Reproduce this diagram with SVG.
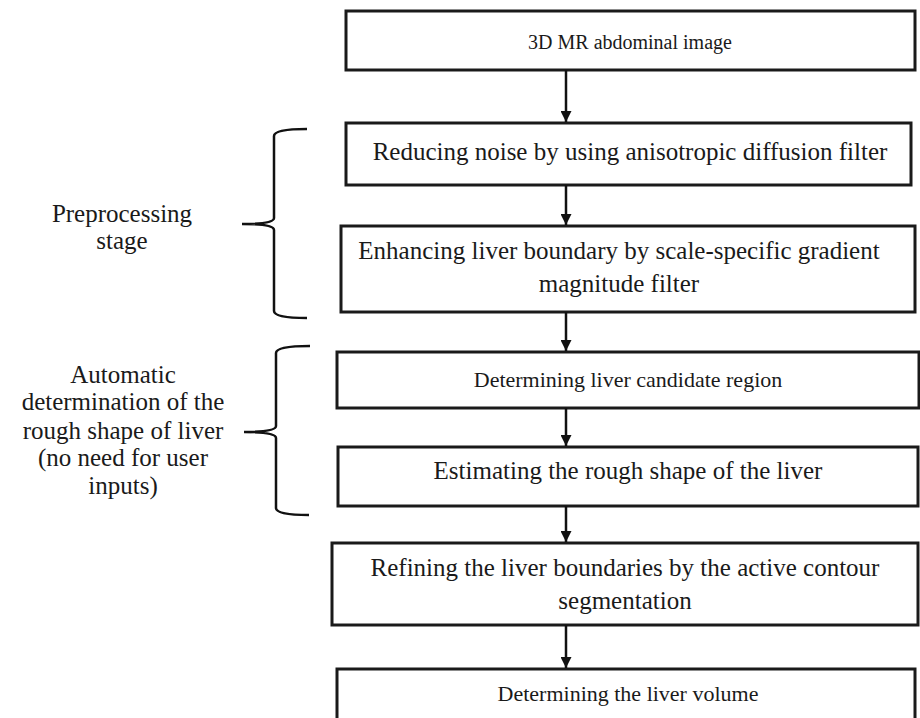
<svg xmlns="http://www.w3.org/2000/svg" width="920" height="718" viewBox="0 0 920 718">
<defs>
<marker id="ah" markerWidth="11" markerHeight="11" refX="10" refY="5" orient="auto" markerUnits="userSpaceOnUse" viewBox="0 0 10 10">
<path d="M0,0 L10,5 L0,10 Z" fill="#111"/>
</marker>
<style>
.box{fill:#fff;stroke:#1a1a1a;stroke-width:3}
.t{font-family:"Liberation Serif","Times New Roman",serif;font-size:25px;fill:#1a1a1a;text-anchor:middle}
.s{font-size:22px}
.x{font-size:20px}
.c{stroke:#111;stroke-width:2.5;fill:none}
.br{stroke:#111;stroke-width:2.5;fill:none}
</style>
</defs>
<rect width="920" height="718" fill="#fff"/>
<g id="n1"><rect class="box" x="346" y="11" width="569" height="59"/><text class="t x" x="630" y="49">3D MR abdominal image</text></g>
<g id="n2"><rect class="box" x="346" y="123" width="565" height="62"/><text class="t" x="630" y="160">Reducing noise by using anisotropic diffusion filter</text></g>
<g id="n3"><rect class="box" x="341" y="226" width="574" height="86"/><text class="t" x="619" y="259">Enhancing liver boundary by scale-specific gradient</text><text class="t" x="619" y="292">magnitude filter</text></g>
<g id="n4"><rect class="box" x="337" y="352" width="582" height="56"/><text class="t s" x="628" y="387">Determining liver candidate region</text></g>
<g id="n5"><rect class="box" x="338" y="447" width="580" height="59"/><text class="t" x="628" y="479">Estimating the rough shape of the liver</text></g>
<g id="n6"><rect class="box" x="332" y="543" width="586" height="82"/><text class="t" x="625" y="576">Refining the liver boundaries by the active contour</text><text class="t" x="625" y="609">segmentation</text></g>
<g id="n7"><rect class="box" x="337" y="669" width="578" height="60"/><text class="t s" x="628" y="701">Determining the liver volume</text></g>
<g id="l1"><text class="t" x="122" y="222">Preprocessing</text><text class="t" x="122" y="249">stage</text></g>
<g id="l2"><text class="t" x="123" y="383">Automatic</text><text class="t" x="123" y="410">determination of the</text><text class="t" x="123" y="439">rough shape of liver</text><text class="t" x="123" y="466">(no need for user</text><text class="t" x="123" y="494">inputs)</text></g>
<g id="braces">
<path class="br" d="M307,129 Q274,129 274,136 L274,218 Q274,224 242,224 Q274,224 274,230 L274,311 Q274,318 307,318"/>
<path class="br" d="M310,346 Q276,346 276,353 L276,426 Q276,432 244,432 Q276,432 276,438 L276,508 Q276,515 309,515"/>
</g>
<g id="connectors">
<line class="c" x1="566" y1="70" x2="566" y2="122" marker-end="url(#ah)"/>
<line class="c" x1="566" y1="185" x2="566" y2="225" marker-end="url(#ah)"/>
<line class="c" x1="566" y1="312" x2="566" y2="351" marker-end="url(#ah)"/>
<line class="c" x1="566" y1="408" x2="566" y2="446" marker-end="url(#ah)"/>
<line class="c" x1="566" y1="506" x2="566" y2="542" marker-end="url(#ah)"/>
<line class="c" x1="566" y1="625" x2="566" y2="668" marker-end="url(#ah)"/>
</g>
</svg>
